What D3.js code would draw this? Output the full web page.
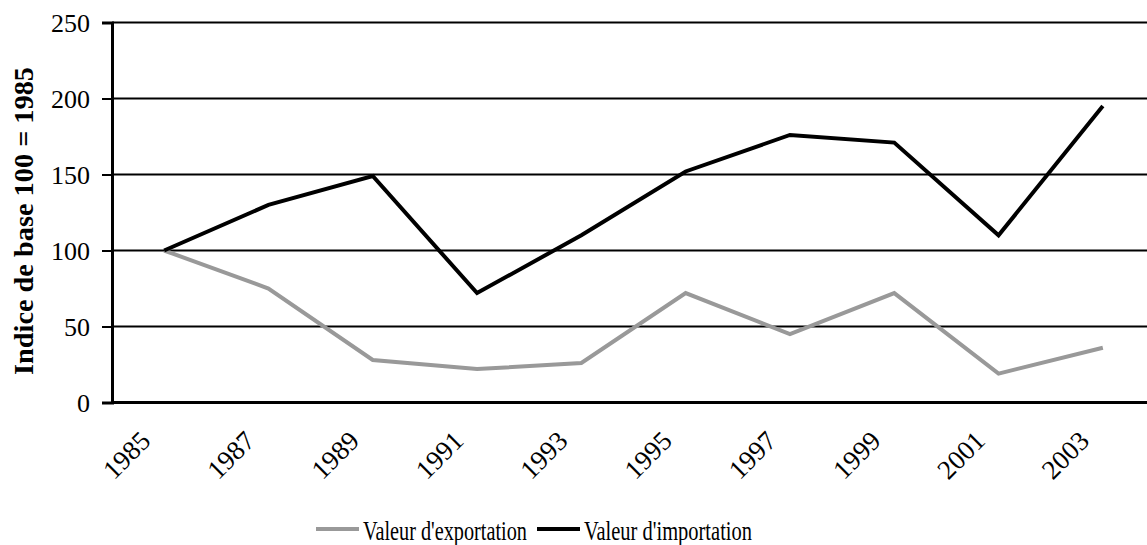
<!DOCTYPE html>
<html><head><meta charset="utf-8">
<script src="https://cdn.jsdelivr.net/npm/d3@7"></script>
<style>body{margin:0;background:#fff;} svg{display:block;} text{font-family:"Liberation Serif","Times New Roman",serif;fill:#000;}</style>
</head><body>
<svg id="c" width="1147" height="545" font-family="Liberation Serif"></svg>
<script>
const years = ["1985","1987","1989","1991","1993","1995","1997","1999","2001","2003"];
const exportValues = [100, 75, 28, 22, 26, 72, 45, 72, 19, 36];
const importValues = [100, 130, 149, 72, 110, 152, 176, 171, 110, 195];
const yTicks = [0, 50, 100, 150, 200, 250];
const seriesNames = ["Valeur d'exportation", "Valeur d'importation"];
const seriesColors = ["#999999", "#000000"];

const FONT = "Liberation Serif";
const svg = d3.select("#c");
const x = d3.scaleBand().domain(years).range([112, 1155]).paddingInner(0).paddingOuter(0);
const y = d3.scaleLinear().domain([0, 250]).range([402.5, 22.5]);
const cx = d => x(d) + x.bandwidth() / 2;

// gridlines
svg.append("g").selectAll("line").data(yTicks.filter(t => t > 0)).join("line")
  .attr("x1", 112).attr("x2", 1147)
  .attr("y1", d => y(d)).attr("y2", d => y(d))
  .attr("stroke", "#000").attr("stroke-width", 2);

// y axis
const yAxis = svg.append("g").attr("transform", "translate(112,0)")
  .call(d3.axisLeft(y).tickValues(yTicks).tickSize(10).tickPadding(12));
yAxis.attr("font-family", FONT).attr("font-size", 26);
yAxis.select(".domain").attr("stroke-width", 3);
yAxis.selectAll(".tick line").attr("stroke-width", 2);
yAxis.selectAll("text").attr("font-size", 26).attr("font-family", FONT).attr("fill", "#000").attr("dy", "0.33em");

// x axis line
svg.append("line").attr("x1", 112).attr("x2", 1147).attr("y1", y(0)).attr("y2", y(0))
  .attr("stroke", "#000").attr("stroke-width", 3);

// x tick labels
svg.append("g").selectAll("text").data(years).join("text")
  .attr("transform", d => `translate(${cx(d) - 12},${y(0) + 40}) rotate(-45)`)
  .attr("text-anchor", "end").attr("font-family", FONT)
  .attr("font-size", 27).text(d => d);

// y title
svg.append("text")
  .attr("transform", `translate(33,221) rotate(-90)`)
  .attr("text-anchor", "middle").attr("font-size", 28).attr("font-weight", "bold")
  .attr("font-family", FONT)
  .attr("textLength", 308).attr("lengthAdjust", "spacingAndGlyphs")
  .text("Indice de base 100 = 1985");

const line = d3.line().x((d, i) => cx(years[i])).y(d => y(d));
[exportValues, importValues].forEach((vals, k) => {
  svg.append("path").datum(vals).attr("d", line)
    .attr("fill", "none").attr("stroke", seriesColors[k]).attr("stroke-width", 4)
    .attr("stroke-linejoin", "miter");
});

// legend
const legendItems = [{x: 316, w: 164, name: seriesNames[0], color: seriesColors[0]},
                     {x: 537, w: 168, name: seriesNames[1], color: seriesColors[1]}];
const lg = svg.append("g");
legendItems.forEach(it => {
  lg.append("line").attr("x1", it.x).attr("x2", it.x + 43).attr("y1", 529).attr("y2", 529)
    .attr("stroke", it.color).attr("stroke-width", 4);
  lg.append("text").attr("x", it.x + 47).attr("y", 540).attr("font-size", 27)
    .attr("font-family", FONT)
    .attr("textLength", it.w).attr("lengthAdjust", "spacingAndGlyphs").text(it.name);
});
</script>
</body></html>
